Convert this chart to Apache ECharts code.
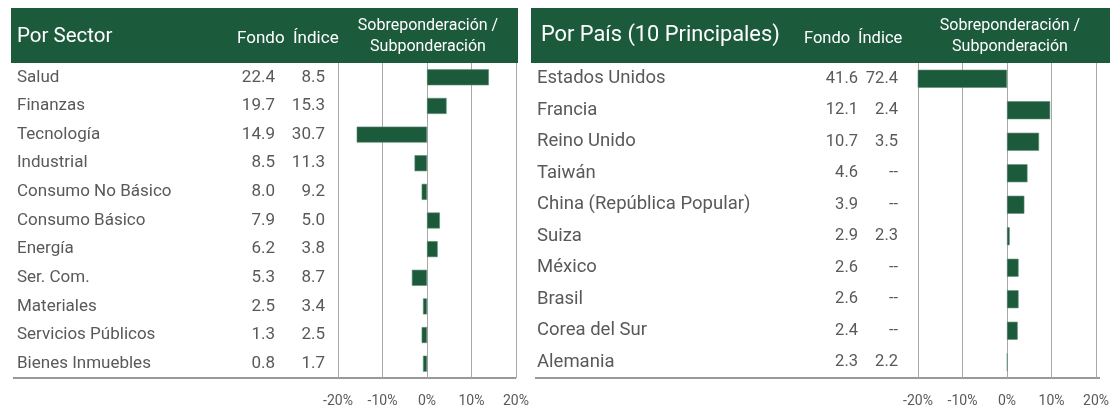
<!DOCTYPE html>
<html>
<head>
<meta charset="utf-8">
<script src="https://cdn.jsdelivr.net/npm/echarts@6/dist/echarts.min.js"></script>
<style>
  html, body { margin: 0; padding: 0; background: #fff; }
  #chart { width: 1112px; height: 409px; }
</style>
</head>
<body>
<div id="chart"></div>
<script>
// sector table
const sectores = ['Salud', 'Finanzas', 'Tecnología', 'Industrial', 'Consumo No Básico', 'Consumo Básico',
  'Energía', 'Ser. Com.', 'Materiales', 'Servicios Públicos', 'Bienes Inmuebles'];
const sectorFondo = ['22.4', '19.7', '14.9', '8.5', '8.0', '7.9', '6.2', '5.3', '2.5', '1.3', '0.8'];
const sectorIndice = ['8.5', '15.3', '30.7', '11.3', '9.2', '5.0', '3.8', '8.7', '3.4', '2.5', '1.7'];
const sectorPeso = [13.9, 4.4, -15.8, -2.8, -1.2, 2.9, 2.4, -3.4, -0.9, -1.2, -0.9];

// country table (top 10)
const paises = ['Estados Unidos', 'Francia', 'Reino Unido', 'Taiwán', 'China (República Popular)', 'Suiza',
  'México', 'Brasil', 'Corea del Sur', 'Alemania'];
const paisFondo = ['41.6', '12.1', '10.7', '4.6', '3.9', '2.9', '2.6', '2.6', '2.4', '2.3'];
const paisIndice = ['72.4', '2.4', '3.5', '--', '--', '2.3', '--', '--', '--', '2.2'];
const paisPeso = [-30.8, 9.7, 7.2, 4.6, 3.9, 0.6, 2.6, 2.6, 2.4, 0.1];

const green = '#1c5a3c';
const textGray = '#595959';
const font = 'Roboto';

const chart = echarts.init(document.getElementById('chart'));

function textAxis(gridIndex, data, margin, align, size, shift) {
  return {
    type: 'category', gridIndex: gridIndex, data: data, inverse: true, position: 'left',
    axisLine: { show: false }, axisTick: { show: false }, splitLine: { show: false },
    axisLabel: { interval: 0, margin: margin, align: align, color: textGray, fontFamily: font, fontSize: size,
      padding: [shift || 0, 0, 0, 0] }
  };
}

function valueAxis(gridIndex) {
  return {
    type: 'value', gridIndex: gridIndex, min: -20, max: 20, interval: 10,
    axisLine: { show: false }, axisTick: { show: false },
    splitLine: { show: true, lineStyle: { color: '#a8a8a8', width: 1 } },
    axisLabel: { formatter: '{value}%', color: textGray, fontFamily: font, fontSize: 14, margin: 16 }
  };
}

function headerText(x, y, text, size, align) {
  return {
    type: 'text', left: x, top: y,
    style: { text: text, fill: '#fff', font: size + 'px ' + font, textAlign: align || 'left', lineHeight: 20 }
  };
}

const option = {
  animation: false,
  grid: [
    { left: 338, right: 1112 - 516, top: 63, bottom: 31 },
    { left: 918, right: 12, top: 63, bottom: 31 }
  ],
  xAxis: [valueAxis(0), valueAxis(1)],
  yAxis: [
    textAxis(0, sectores, 338 - 17, 'left', 17, 2),
    textAxis(0, sectorFondo, 338 - 275, 'right', 17, 2),
    textAxis(0, sectorIndice, 338 - 325, 'right', 17, 2),
    textAxis(1, paises, 918 - 537, 'left', 18.5, 4),
    textAxis(1, paisFondo, 918 - 858, 'right', 16.5, 4),
    textAxis(1, paisIndice, 918 - 898, 'right', 16.5, 4)
  ],
  series: [
    {
      type: 'bar', xAxisIndex: 0, yAxisIndex: 0, data: sectorPeso, barWidth: 16, clip: true,
      itemStyle: { color: green, borderColor: '#5d8a72', borderWidth: 0.6 }
    },
    {
      type: 'bar', xAxisIndex: 1, yAxisIndex: 3, data: paisPeso, barWidth: 18, clip: true,
      itemStyle: { color: green, borderColor: '#5d8a72', borderWidth: 0.6 }
    }
  ],
  graphic: [
    { type: 'rect', shape: { x: 11, y: 8, width: 507, height: 55 }, style: { fill: green } },
    { type: 'rect', shape: { x: 531, y: 8, width: 579, height: 55 }, style: { fill: green } },
    headerText(17, 26, 'Por Sector', 20.5),
    headerText(237, 29, 'Fondo', 17),
    headerText(293, 29, 'Índice', 17),
    { type: 'text', x: 428, y: 15,
      style: { text: 'Sobreponderación /\nSubponderación', fill: '#fff', font: '16px ' + font,
        align: 'center', lineHeight: 21 } },
    headerText(541, 25, 'Por País (10 Principales)', 21.8),
    headerText(804, 29, 'Fondo', 16.5),
    headerText(858, 29, 'Índice', 16.5),
    { type: 'text', x: 1010, y: 15,
      style: { text: 'Sobreponderación /\nSubponderación', fill: '#fff', font: '16px ' + font,
        align: 'center', lineHeight: 21 } },
    { type: 'line', shape: { x1: 13, y1: 378, x2: 516, y2: 378 }, style: { stroke: '#999', lineWidth: 2 } },
    { type: 'line', shape: { x1: 535, y1: 378, x2: 1100, y2: 378 }, style: { stroke: '#999', lineWidth: 2 } }
  ]
};

chart.setOption(option);
</script>
</body>
</html>
